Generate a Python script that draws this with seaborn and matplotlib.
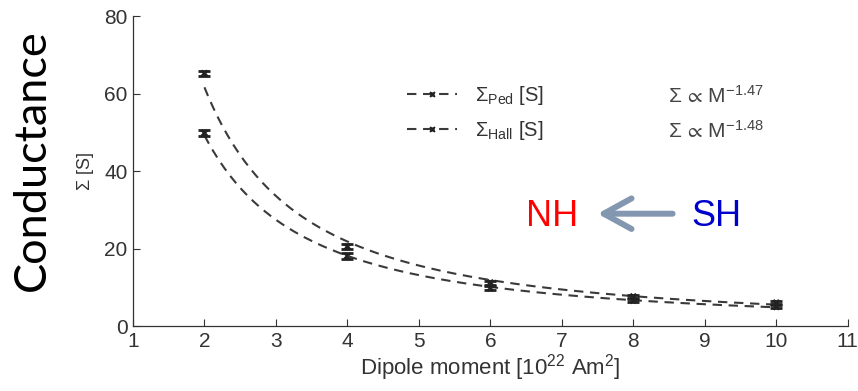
import numpy as np
import pandas as pd
import matplotlib
matplotlib.use("Agg")
import matplotlib.pyplot as plt
import seaborn as sns
from matplotlib.lines import Line2D

# data
dipole = [2, 4, 6, 8, 10]
sigma_ped = [65.2, 20.5, 11.2, 7.6, 6.0]
sigma_hall = [49.8, 18.1, 9.8, 6.6, 5.0]
err_ped = [0.7, 0.6, 0.5, 0.4, 0.4]
err_hall = [0.7, 0.8, 0.5, 0.4, 0.4]
legend_labels = [r"$\Sigma_{\mathrm{Ped}}$ [S]", r"$\Sigma_{\mathrm{Hall}}$ [S]"]
fit_labels = [r"$\Sigma\,\propto\,\mathrm{M}^{-1.47}$", r"$\Sigma\,\propto\,\mathrm{M}^{-1.48}$"]

sns.set_style("white")
plt.rcParams['font.family'] = ['Liberation Sans', 'DejaVu Sans']
plt.rcParams['mathtext.fontset'] = 'custom'
plt.rcParams['mathtext.rm'] = 'Liberation Sans'
plt.rcParams['mathtext.it'] = 'Liberation Sans:italic'
plt.rcParams['mathtext.fallback'] = 'stixsans'

fig = plt.figure(figsize=(8.58, 3.91), dpi=100)
ax = fig.add_axes([0.155, 0.166, 0.833, 0.793])

# power-law fits from data
xf = np.linspace(2, 10, 200)
rows = []
for name, ys in zip(["ped", "hall"], [sigma_ped, sigma_hall]):
    b, a = np.polyfit(np.log(dipole), np.log(ys), 1)
    for xv in xf:
        rows.append({"x": xv, "y": np.exp(a) * xv ** b, "s": name})
fit = pd.DataFrame(rows)

col = "#3a3a3a"
dash = (0, (4.5, 3.2))
for name in ["ped", "hall"]:
    sns.lineplot(data=fit[fit.s == name], x="x", y="y", ax=ax, color=col,
                 linestyle=dash, linewidth=1.5, legend=False)

for ys, es in [(sigma_ped, err_ped), (sigma_hall, err_hall)]:
    ax.errorbar(dipole, ys, yerr=es, fmt='none', ecolor="#222222",
                capsize=4, capthick=2, elinewidth=1.2)
    sns.scatterplot(x=dipole, y=ys, ax=ax, marker='X', s=30, color="#222222",
                    edgecolor="none", legend=False)

handles = [Line2D([], [], color=col, linestyle=dash, linewidth=1.5,
                  marker='X', markersize=5, markerfacecolor="#222222",
                  markeredgecolor="none") for _ in range(2)]
ax.legend(handles, legend_labels, loc='upper left', bbox_to_anchor=(0.358, 0.84),
          frameon=False, fontsize=14.5, handlelength=2.5, handletextpad=0.9,
          labelspacing=0.62, labelcolor="#333333")

ax.text(8.48, 59.3, fit_labels[0], fontsize=15, color="#444444", va='center')
ax.text(8.48, 50.5, fit_labels[1], fontsize=15, color="#444444", va='center')

ax.set_xlim(1, 11)
ax.set_ylim(0, 80)
ax.set_xticks(range(1, 12))
ax.set_yticks([0, 20, 40, 60, 80])
ax.tick_params(direction='in', length=5, width=0.8, labelsize=15,
               labelcolor="#333333", color="#333333", left=True, bottom=True,
               pad=4)
for s in ['top', 'right']:
    ax.spines[s].set_visible(False)
for s in ['left', 'bottom']:
    ax.spines[s].set_color("#333333")
    ax.spines[s].set_linewidth(0.9)

ax.set_xlabel(r"Dipole moment [10$^{22}$ Am$^{2}$]", fontsize=16, color="#333333", labelpad=1)
ax.set_ylabel(r"$\Sigma$ [S]", fontsize=13, color="#333333", labelpad=6)

ax.text(6.87, 28.4, "NH", fontsize=26, color="#ff0000", ha='center', va='center')
ax.text(9.17, 28.4, "SH", fontsize=26, color="#0000cc", ha='center', va='center')
ax.annotate("", xy=(7.5, 29.0), xytext=(8.55, 29.0),
            arrowprops=dict(arrowstyle="->,head_length=2.0,head_width=1.1",
                            color="#8497b0", lw=4.3, capstyle='round',
                            joinstyle='round', mutation_scale=10,
                            shrinkA=0, shrinkB=0))

fig.text(0.038, 0.59, "Conductance", rotation=90, fontsize=32.5, ha='center',
         va='center', color='black', family=['Lato', 'DejaVu Sans'])

fig.savefig("out.png", dpi=100)
